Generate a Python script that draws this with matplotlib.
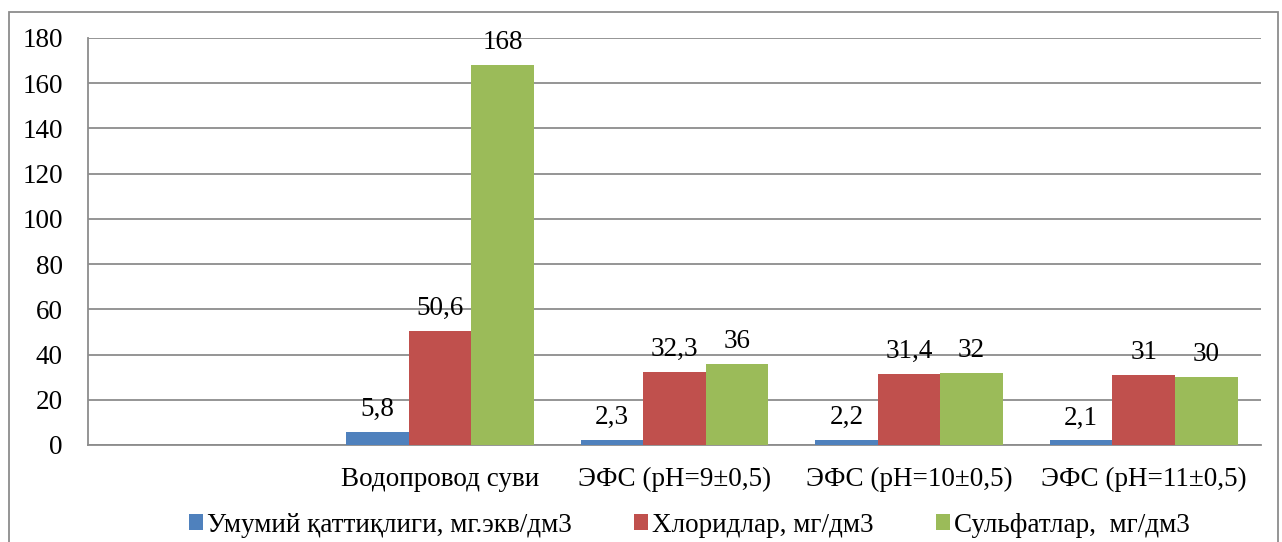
import matplotlib
matplotlib.use("Agg")
import matplotlib.pyplot as plt
from matplotlib.patches import Patch, Rectangle
import numpy as np

plt.rcParams['font.family'] = ['Liberation Serif', 'DejaVu Serif']

categories = ["Водопровод суви", "ЭФС (pH=9±0,5)", "ЭФС (pH=10±0,5)", "ЭФС (pH=11±0,5)"]
series_names = ["Умумий қаттиқлиги, мг.экв/дм3", "Хлоридлар, мг/дм3", "Сульфатлар,  мг/дм3"]
hardness = [5.8, 2.3, 2.2, 2.1]
chlorides = [50.6, 32.3, 31.4, 31]
sulfates = [168, 36, 32, 30]
yticks = [0, 20, 40, 60, 80, 100, 120, 140, 160, 180]

colors = ["#4F81BD", "#C0504D", "#9BBB59"]
series = [hardness, chlorides, sulfates]
FS = 19.5

fig = plt.figure(figsize=(12.82, 5.42), dpi=100)
ax = fig.add_axes([88/1282, 1-445/542, (1261-88)/1282, (445-38)/542])

x = np.arange(len(categories))
w = 0.8/3
for i, (vals, c) in enumerate(zip(series, colors)):
    pos = x + (i-1)*w
    bars = ax.bar(pos, vals, width=w, color=c, zorder=3)
    for b, v in zip(bars, vals):
        ax.annotate(f"{v:g}".replace('.', ','), (b.get_x()+b.get_width()/2, v),
                    xytext=(0, 7), textcoords='offset points', ha='center', va='bottom',
                    fontsize=FS, color='black')

ax.set_xlim(-1.5, len(categories)-0.5)
ax.set_ylim(0, 180)
ax.set_yticks(yticks)
ax.set_yticklabels([str(t) for t in yticks], fontsize=FS)
ax.set_xticks(x)
ax.set_xticklabels(categories, fontsize=FS)
ax.tick_params(axis='both', length=0)
ax.tick_params(axis='y', pad=18)
ax.tick_params(axis='x', pad=16)
ax.yaxis.grid(True, color='#8c8c8c', linewidth=1.3, zorder=0)
ax.set_axisbelow(True)
for s in ['top', 'right']:
    ax.spines[s].set_visible(False)
for s in ['left', 'bottom']:
    ax.spines[s].set_color('#8c8c8c')
    ax.spines[s].set_linewidth(1.3)

handles = [Patch(facecolor=c, edgecolor='none') for c in colors]
fig.legend(handles, series_names, loc='center left', bbox_to_anchor=(189/1282, 1-525/542),
           ncol=3, frameon=False, fontsize=FS, handlelength=0.52, handleheight=0.52,
           handletextpad=0.15, columnspacing=2.3, borderpad=0, borderaxespad=0)

fig.patches.append(Rectangle((9/1282, -0.1), (1278-9)/1282, 1.1 - 12/542,
                             transform=fig.transFigure, fill=False,
                             edgecolor='#8c8c8c', linewidth=1.3))

fig.savefig("out.png", dpi=100)
